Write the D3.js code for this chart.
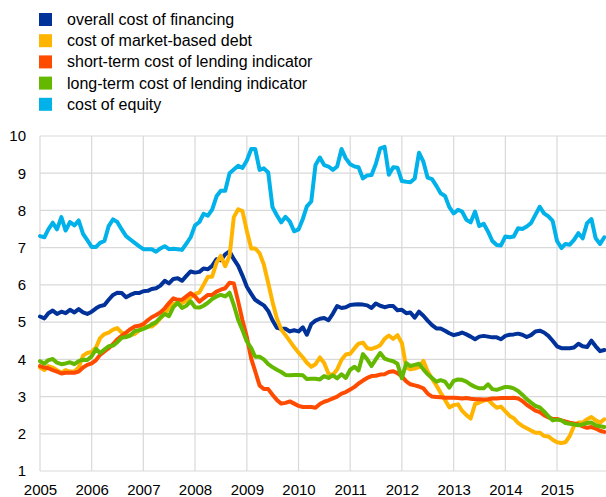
<!DOCTYPE html>
<html>
<head>
<meta charset="utf-8">
<script src="https://cdn.jsdelivr.net/npm/d3@7"></script>
<style>
  body { margin: 0; background: #fff; }
  svg { display: block; font-family: "Liberation Sans", Arial, sans-serif; }
</style>
</head>
<body>
<svg id="chart"></svg>
<script>
// monthly values, Jan 2005 - Dec 2015
const overallCost = [
  5.15, 5.10, 5.24, 5.31, 5.22, 5.28, 5.24, 5.33, 5.26, 5.35, 5.26, 5.22,
  5.28, 5.37, 5.43, 5.46, 5.60, 5.73, 5.79, 5.78, 5.67, 5.73, 5.78, 5.78,
  5.83, 5.84, 5.89, 5.91, 5.98, 6.11, 6.04, 6.16, 6.18, 6.11, 6.24, 6.36,
  6.33, 6.35, 6.44, 6.42, 6.51, 6.69, 6.66, 6.82, 6.90, 6.69, 6.51, 6.25,
  5.95, 5.76, 5.60, 5.52, 5.45, 5.30, 5.05, 4.85, 4.82, 4.82, 4.75, 4.78,
  4.75, 4.86, 4.66, 4.95, 5.04, 5.09, 5.11, 5.05, 5.23, 5.43, 5.38, 5.40,
  5.46, 5.47, 5.48, 5.47, 5.45, 5.38, 5.50, 5.44, 5.40, 5.43, 5.43, 5.32,
  5.33, 5.24, 5.26, 5.12, 5.28, 5.17, 5.04, 4.92, 4.83, 4.83, 4.77, 4.70,
  4.65, 4.68, 4.72, 4.67, 4.61, 4.54, 4.61, 4.63, 4.61, 4.59, 4.59, 4.54,
  4.63, 4.66, 4.67, 4.69, 4.66, 4.60, 4.65, 4.75, 4.77, 4.72, 4.63, 4.50,
  4.35, 4.30, 4.30, 4.30, 4.32, 4.42, 4.35, 4.33, 4.50, 4.35, 4.22, 4.25
];
const marketDebt = [
  3.78, 3.71, 3.82, 3.78, 3.71, 3.64, 3.71, 3.67, 3.67, 3.78, 4.10, 4.17,
  4.20, 4.32, 4.57, 4.68, 4.72, 4.80, 4.84, 4.72, 4.65, 4.65, 4.68, 4.77,
  4.86, 4.88, 4.88, 4.97, 5.10, 5.24, 5.37, 5.49, 5.52, 5.51, 5.58, 5.67,
  5.75, 5.80, 6.00, 6.22, 6.22, 6.60, 6.78, 6.50, 6.78, 7.82, 8.03, 7.98,
  7.45, 6.98, 6.98, 6.85, 6.55, 6.05, 5.55, 5.10, 4.80, 4.65, 4.49, 4.33,
  4.18, 4.05, 3.91, 3.80, 3.87, 4.05, 3.90, 3.61, 3.58, 3.73, 3.99, 4.13,
  4.15, 4.30, 4.42, 4.45, 4.30, 4.28, 4.32, 4.38, 4.55, 4.64, 4.55, 4.65,
  4.44, 3.78, 3.73, 3.75, 3.79, 3.96, 3.68, 3.48, 3.30, 3.10, 2.91, 2.71,
  2.77, 2.79, 2.62, 2.50, 2.41, 2.80, 2.84, 2.89, 2.92, 2.80, 2.70, 2.73,
  2.60, 2.48, 2.42, 2.29, 2.21, 2.15, 2.09, 2.03, 2.03, 1.94, 1.93, 1.84,
  1.77, 1.75, 1.77, 1.94, 2.21, 2.30, 2.30, 2.39, 2.45, 2.36, 2.30, 2.39
];
const shortTermLending = [
  3.82, 3.78, 3.76, 3.71, 3.67, 3.62, 3.64, 3.64, 3.64, 3.67, 3.78, 3.85,
  3.89, 3.98, 4.12, 4.21, 4.30, 4.41, 4.54, 4.63, 4.72, 4.81, 4.88, 4.90,
  4.95, 5.05, 5.13, 5.19, 5.26, 5.37, 5.51, 5.64, 5.60, 5.60, 5.69, 5.78,
  5.69, 5.55, 5.64, 5.73, 5.73, 5.82, 5.87, 5.91, 6.06, 6.04, 5.55, 5.05,
  4.60, 4.02, 3.68, 3.30, 3.20, 3.20, 3.05, 2.91, 2.81, 2.83, 2.87, 2.81,
  2.75, 2.72, 2.72, 2.72, 2.70, 2.80, 2.86, 2.90, 2.95, 3.00, 3.08, 3.12,
  3.19, 3.26, 3.35, 3.43, 3.50, 3.55, 3.56, 3.59, 3.60, 3.66, 3.68, 3.63,
  3.54, 3.41, 3.33, 3.30, 3.27, 3.22, 3.08, 3.00, 2.99, 2.98, 2.97, 2.97,
  2.97, 2.96, 2.95, 2.96, 2.94, 2.93, 2.93, 2.92, 2.93, 2.95, 2.95, 2.96,
  2.96, 2.96, 2.97, 2.95, 2.88, 2.78, 2.70, 2.62, 2.58, 2.50, 2.44, 2.40,
  2.40, 2.36, 2.33, 2.30, 2.28, 2.25, 2.20, 2.16, 2.18, 2.14, 2.08, 2.05
];
const longTermLending = [
  3.95, 3.88, 3.98, 4.01, 3.91, 3.87, 3.89, 3.92, 3.87, 3.95, 3.99, 3.98,
  4.08, 4.28, 4.17, 4.26, 4.35, 4.37, 4.46, 4.58, 4.60, 4.64, 4.76, 4.78,
  4.82, 4.87, 4.94, 5.00, 5.12, 5.22, 5.16, 5.40, 5.52, 5.38, 5.44, 5.56,
  5.40, 5.39, 5.44, 5.52, 5.62, 5.69, 5.73, 5.69, 5.79, 5.46, 5.06, 4.79,
  4.48, 4.30, 4.07, 4.07, 4.00, 3.87, 3.79, 3.72, 3.66, 3.58, 3.57, 3.58,
  3.58, 3.57, 3.47, 3.48, 3.48, 3.46, 3.55, 3.50, 3.57, 3.49, 3.60, 3.50,
  3.72, 3.80, 3.70, 4.14, 4.00, 3.82, 4.00, 4.17, 4.02, 3.98, 3.95, 3.88,
  3.49, 3.90, 3.82, 3.85, 3.88, 3.73, 3.60, 3.50, 3.40, 3.44, 3.40, 3.24,
  3.42, 3.46, 3.45, 3.40, 3.32, 3.26, 3.22, 3.22, 3.33, 3.20, 3.18, 3.22,
  3.26, 3.25, 3.22, 3.15, 3.05, 2.93, 2.84, 2.75, 2.71, 2.60, 2.47, 2.36,
  2.38, 2.36, 2.29, 2.27, 2.25, 2.23, 2.25, 2.29, 2.30, 2.23, 2.20, 2.18
];
const costOfEquity = [
  7.31, 7.28, 7.49, 7.67, 7.49, 7.82, 7.46, 7.69, 7.60, 7.73, 7.37, 7.20,
  7.02, 7.02, 7.13, 7.18, 7.58, 7.76, 7.69, 7.49, 7.31, 7.22, 7.13, 7.04,
  6.96, 6.96, 6.96, 6.89, 6.98, 7.04, 6.96, 6.97, 6.96, 6.94, 7.11, 7.28,
  7.60, 7.69, 7.91, 7.86, 8.02, 8.38, 8.53, 8.53, 9.00, 9.10, 9.20, 9.14,
  9.34, 9.65, 9.65, 9.09, 9.13, 9.02, 8.09, 7.87, 7.68, 7.83, 7.70, 7.44,
  7.49, 7.78, 8.11, 8.24, 9.22, 9.42, 9.22, 9.18, 9.09, 9.18, 9.65, 9.40,
  9.24, 9.18, 9.16, 8.86, 8.94, 8.95, 9.25, 9.67, 9.71, 8.96, 9.16, 9.15,
  8.79, 8.77, 8.76, 8.86, 9.55, 9.31, 8.88, 8.84, 8.66, 8.46, 8.39, 8.09,
  7.92, 8.02, 7.97, 7.75, 7.68, 7.97, 7.58, 7.64, 7.43, 7.18, 7.07, 7.06,
  7.30, 7.28, 7.30, 7.52, 7.50, 7.57, 7.66, 7.88, 8.10, 7.92, 7.84, 7.72,
  7.18, 6.99, 7.10, 7.08, 7.21, 7.39, 7.25, 7.66, 7.77, 7.25, 7.10, 7.28
];

const yearTicks = [2005, 2006, 2007, 2008, 2009, 2010, 2011, 2012, 2013, 2014, 2015];
const valueTicks = [1, 2, 3, 4, 5, 6, 7, 8, 9, 10];

const seriesNames = [
  "overall cost of financing",
  "cost of market-based debt",
  "short-term cost of lending indicator",
  "long-term cost of lending indicator",
  "cost of equity"
];
const seriesColors = ["#003299", "#ffb400", "#ff4b00", "#65b800", "#00b1ea"];
const seriesValues = [overallCost, marketDebt, shortTermLending, longTermLending, costOfEquity];

function drawChart() {
  const width = 606;
  const height = 497;
  const left = 40, top = 136, bottom = 471;

  const svg = d3.select("#chart")
    .attr("width", width)
    .attr("height", height);

  const x = d3.scaleTime()
    .domain([new Date(2005, 0, 1), new Date(2016, 0, 1)])
    .range([left, left + 11 * 51.7]);

  const y = d3.scaleLinear()
    .domain([1, 10])
    .range([bottom, top]);

  // grid
  svg.append("g")
    .selectAll("line")
    .data(valueTicks)
    .join("line")
    .attr("x1", left)
    .attr("x2", width)
    .attr("y1", d => y(d))
    .attr("y2", d => y(d))
    .attr("stroke", "#d9d9d9")
    .attr("stroke-width", 1.2);

  svg.append("g")
    .selectAll("line")
    .data(yearTicks)
    .join("line")
    .attr("x1", d => x(new Date(d, 0, 1)))
    .attr("x2", d => x(new Date(d, 0, 1)))
    .attr("y1", top)
    .attr("y2", bottom)
    .attr("stroke", "#d9d9d9")
    .attr("stroke-width", 1.2);

  // axes (labels only, lines come from the grid)
  const yAxis = svg.append("g")
    .attr("transform", `translate(${left},0)`)
    .call(d3.axisLeft(y).tickValues(valueTicks).tickSize(0).tickPadding(14));
  yAxis.select(".domain").remove();
  yAxis.selectAll("text")
    .attr("font-size", 15)
    .attr("fill", "#000")
    .attr("font-family", "Liberation Sans, Arial, sans-serif");

  const xAxis = svg.append("g")
    .attr("transform", `translate(0,${bottom})`)
    .call(d3.axisBottom(x)
      .tickValues(yearTicks.map(d => new Date(d, 0, 1)))
      .tickFormat(d3.timeFormat("%Y"))
      .tickSize(0)
      .tickPadding(13));
  xAxis.select(".domain").remove();
  xAxis.selectAll("text")
    .attr("font-size", 15)
    .attr("fill", "#000")
    .attr("font-family", "Liberation Sans, Arial, sans-serif");

  // lines
  const line = d3.line()
    .x((d, i) => x(new Date(2005, i, 1)))
    .y(d => y(d));

  const drawOrder = [0, 1, 2, 3, 4];
  svg.append("g")
    .selectAll("path")
    .data(drawOrder)
    .join("path")
    .attr("d", i => line(seriesValues[i]))
    .attr("fill", "none")
    .attr("stroke", i => seriesColors[i])
    .attr("stroke-width", 4)
    .attr("stroke-linejoin", "round")
    .attr("stroke-linecap", "round");

  // legend
  const legend = svg.append("g")
    .selectAll("g")
    .data(seriesNames)
    .join("g")
    .attr("transform", (d, i) => `translate(39,${13 + i * 21.2})`);

  legend.append("rect")
    .attr("width", 13)
    .attr("height", 13)
    .attr("fill", (d, i) => seriesColors[i]);

  legend.append("text")
    .attr("x", 28)
    .attr("y", 12)
    .attr("font-size", 16)
    .attr("fill", "#000")
    .text(d => d);
}

drawChart()
</script>
</body>
</html>
